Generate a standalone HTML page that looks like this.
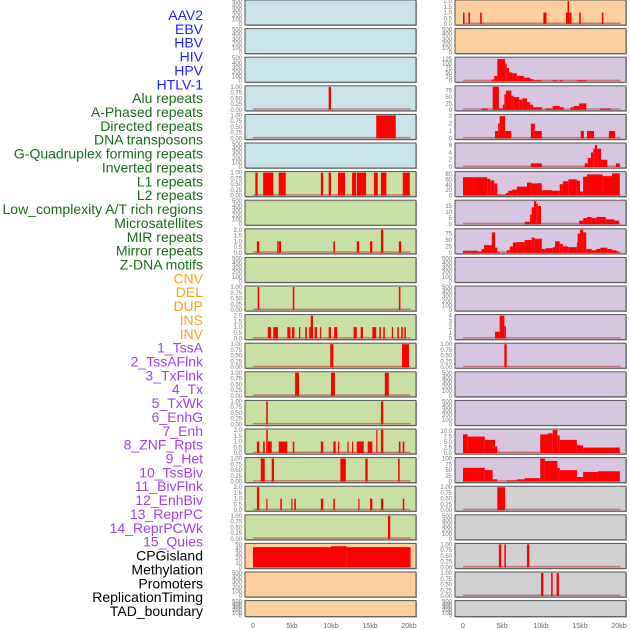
<!DOCTYPE html>
<html><head><meta charset="utf-8"><style>
html,body{margin:0;padding:0;background:#fff;}
svg{display:block;font-family:"Liberation Sans",sans-serif;}
</style></head><body>
<svg id="chart" width="630" height="630" viewBox="0 0 630 630" xmlns="http://www.w3.org/2000/svg"></svg>
<script>
const trackLabels=["AAV2","EBV","HBV","HIV","HPV","HTLV-1","Alu repeats","A-Phased repeats","Directed repeats","DNA transposons","G-Quadruplex forming repeats","Inverted repeats","L1 repeats","L2 repeats","Low_complexity A/T rich regions","Microsatellites","MIR repeats","Mirror repeats","Z-DNA motifs","CNV","DEL","DUP","INS","INV","1_TssA","2_TssAFlnk","3_TxFlnk","4_Tx","5_TxWk","6_EnhG","7_Enh","8_ZNF_Rpts","9_Het","10_TssBiv","11_BivFlnk","12_EnhBiv","13_ReprPC","14_ReprPCWk","15_Quies","CPGisland","Methylation","Promoters","ReplicationTiming","TAD_boundary"];
const labelGroups=[6,13,5,15,5];
const groupColors=["#1f1fff","#1a6b1a","#ffa21a","#a040f0","#000000"];
const xTicks=[0,5,10,15,20];
const xTickLabels=["0","5kb","10kb","15kb","20kb"];
const leftMax=[500,500,500,1,1,500,1,500,2,500,1,2,1,1,1,2,1,2,1,50,500,500];
const rightMax=[2,500,130,90,3.1,6.3,85,19,90,500,500,4,1,500,500,10.5,100,1,500,1,1,500];
const leftTicks=[[0,100,200,300,400,500],[0,100,200,300,400,500],[0,100,200,300,400,500],[0,.25,.5,.75,1],[0,.25,.5,.75,1],[0,100,200,300,400,500],[0,.25,.5,.75,1],[0,100,200,300,400,500],[0,.5,1,1.5,2],[0,100,200,300,400,500],[0,.25,.5,.75,1],[0,.5,1,1.5,2],[0,.25,.5,.75,1],[0,.25,.5,.75,1],[0,.25,.5,.75,1],[0,.5,1,1.5,2],[0,.25,.5,.75,1],[0,.5,1,1.5,2],[0,.25,.5,.75,1],[0,10,20,30,40,50],[0,100,200,300,400,500],[0,100,200,300,400,500]];
const rightTicks=[[0,.5,1,1.5,2],[0,100,200,300,400,500],[0,25,50,75,100,125],[0,25,50,75],[0,1,2,3],[0,2,4,6],[0,20,40,60,80],[0,5,10,15],[0,25,50,75],[0,100,200,300,400,500],[0,100,200,300,400,500],[0,1,2,3,4],[0,.25,.5,.75,1],[0,100,200,300,400,500],[0,100,200,300,400,500],[0,2.5,5,7.5,10],[0,25,50,75,100],[0,.25,.5,.75,1],[0,100,200,300,400,500],[0,.25,.5,.75,1],[0,.25,.5,.75,1],[0,100,200,300,400,500]];
const tickDigits=[[0,0,0,2,2,0,2,0,1,0,2,1,2,2,2,1,2,1,2,0,0,0],[1,0,0,0,0,0,0,0,0,0,0,0,2,0,0,1,0,2,0,2,2,0]];
const leftSegs=[[],[],[],
[[9.7,10.0,1]],
[[15.8,18.3,1]],
[],
[[0.3,0.6,1],[1.3,2.6,1],[3.3,4.2,1],[8.7,9.0,1],[9.7,10.0,1],[10.9,11.8,1],[12.7,13.2,1],[13.3,14.5,1],[15.5,16.0,1],[16.4,17.1,1],[19.2,20.1,1]],
[],
[[0.5,0.8,1],[3.1,3.2,1],[3.3,3.6,1],[10.3,10.5,1],[13.3,13.6,1],[15.0,15.3,1],[16.4,16.7,2],[18.7,19.0,1]],
[],
[[0.6,0.8,1],[5.1,5.3,1],[18.7,18.9,1]],
[[1.9,2.3,1],[2.6,3.2,1],[4.4,4.8,1],[5.0,5.3,1],[5.9,6.0,1],[6.7,6.9,1],[7.2,7.4,1],[7.4,7.7,2],[7.9,8.2,1],[8.6,8.7,1],[9.7,10.0,1],[10.4,10.8,1],[12.9,13.3,1],[13.8,14.1,1],[15.3,15.8,1],[16.2,16.4,1],[16.7,16.9,1],[17.8,17.9,1],[18.5,18.7,1],[19.0,19.2,1],[19.4,19.6,1]],
[[9.9,10.3,1],[19.1,20.0,1]],
[[5.4,5.9,1],[10.0,10.5,1],[16.9,17.4,1]],
[[1.7,1.9,1],[16.4,16.7,1]],
[[0.5,0.8,1],[1.3,1.5,1],[1.7,1.9,2],[1.9,2.4,1],[3.3,4.4,1],[5.1,5.3,1],[8.7,9.0,1],[10.3,10.6,1],[10.9,11.0,1],[12.1,12.2,1],[12.7,12.8,1],[13.3,14.2,1],[14.7,15.3,1],[15.8,15.9,2],[16.4,16.7,2],[18.7,18.9,1],[19.2,19.4,1]],
[[1.0,1.5,1],[2.4,2.7,1],[11.2,11.9,1],[14.4,14.7,1],[18.6,18.8,1]],
[[0.5,0.8,2],[1.7,1.8,1],[3.5,3.7,1],[4.9,5.0,1],[5.3,5.5,1],[8.7,9.0,1],[10.3,10.5,1],[13.5,13.6,1],[15.0,15.3,1],[16.4,16.7,1],[19.2,19.4,1]],
[[17.3,17.6,1]],
[[0,10.0,44],[10.0,12.0,46],[12.0,20.2,44]],
[],[]];
const rightSegs=[
[[0,0.2,1],[0.7,0.9,1],[2.2,2.4,1],[10.3,10.7,1],[13.2,13.4,1],[13.4,13.6,2],[13.6,13.9,1],[14.9,15.1,1],[17.8,18.0,1]],
[],
[[3.7,4.0,10],[4.0,4.4,30],[4.4,5.4,125],[5.4,5.6,100],[5.6,5.9,75],[5.9,6.3,50],[6.3,6.9,45],[6.9,7.8,30],[7.8,8.6,20],[8.6,9.0,12],[9.0,10.1,5],[11.5,12.1,5],[12.4,12.8,5],[14.6,15.8,5]],
[[2.4,3.2,5],[3.8,4.6,90],[4.6,5.1,5],[5.1,5.3,20],[5.3,5.5,60],[5.5,6.2,75],[6.2,6.5,55],[6.5,7.2,50],[7.2,7.6,40],[7.6,8.2,45],[8.2,8.6,30],[8.6,9.0,20],[9.0,10.1,10],[10.6,11.5,5],[11.5,12.4,15],[12.4,12.9,10],[13.8,14.2,10],[14.2,14.9,15],[14.9,15.8,25],[17.6,19.0,5]],
[[4.1,4.5,1],[4.5,4.7,2],[4.7,5.4,3],[5.4,6.2,1],[8.7,9.2,2],[9.2,10.1,1],[15.1,15.5,1],[15.9,16.8,1],[18.7,19.5,1]],
[[8.7,10.1,1],[15.6,16.0,1],[16.0,16.4,2.5],[16.4,16.7,4],[16.7,16.9,5],[16.9,17.2,6],[17.2,17.7,5],[17.7,18.5,2],[19.6,20.1,1]],
[[0,1.4,68],[1.4,3.1,68],[3.1,3.5,62],[3.5,4.0,56],[4.0,4.4,45],[4.4,5.5,3],[5.5,5.8,10],[5.8,6.3,18],[6.3,6.9,22],[6.9,8.2,33],[8.2,8.8,48],[8.8,9.5,45],[9.5,10.1,46],[10.1,11.4,20],[11.4,12.4,18],[12.4,12.8,42],[12.8,13.5,53],[13.5,14.6,60],[14.6,15.0,55],[15.0,15.4,15],[15.4,15.9,70],[15.9,17.9,78],[17.9,19.1,72],[19.1,20.1,82]],
[[7.9,8.6,2],[8.6,8.8,8],[8.8,9.1,14],[9.1,9.4,19],[9.4,9.6,17],[9.6,10.0,15],[14.9,15.4,3],[15.4,15.9,5],[15.9,16.5,6],[16.5,17.1,5],[17.1,18.3,6],[18.3,19.4,4],[19.4,20.0,3]],
[[0,1.9,8],[1.9,2.4,5],[2.4,2.7,15],[2.7,3.7,30],[3.7,4.1,80],[4.1,4.4,20],[4.4,4.7,3],[5.6,6.0,10],[6.0,6.4,25],[6.4,6.9,40],[6.9,7.9,42],[7.9,8.8,50],[8.8,9.2,60],[9.2,10.1,55],[10.1,10.6,15],[10.6,11.5,18],[11.5,11.8,22],[11.8,12.4,45],[12.4,12.8,35],[12.8,13.5,25],[13.5,14.6,22],[14.6,14.7,40],[14.7,15.0,75],[15.0,15.4,90],[15.4,15.8,80],[15.8,16.5,15],[16.5,17.1,10],[17.1,17.6,15],[17.6,18.5,20],[18.5,19.1,15],[19.1,19.7,10],[19.7,20.0,5]],
[],[],
[[4.1,4.7,1.2],[4.7,5.3,4],[5.3,5.5,2.2]],
[[5.3,5.6,1]],
[],[],
[[0,0.6,8.5],[0.6,2.8,7.5],[2.8,4.1,6],[4.1,4.4,3],[9.9,10.9,8.5],[10.9,11.5,9],[11.5,12.1,10.5],[12.1,12.4,8],[12.4,14.6,6],[14.6,15.4,3.5],[15.4,20.1,2.5]],
[[0,2.8,60],[2.8,3.8,50],[3.8,4.4,10],[5.6,6.9,5],[6.9,7.9,10],[7.9,9.9,15],[9.9,10.5,100],[10.5,12.1,90],[12.1,12.4,60],[12.4,14.6,50],[14.6,15.4,20],[15.4,17.3,42],[17.3,20.1,45]],
[[4.4,5.4,1]],
[],
[[4.6,4.9,1],[5.3,5.5,1],[8.2,8.5,1]],
[[10.0,10.3,1],[11.3,11.5,1],[12.0,12.3,1]],
[]];
const leftBg=["#c9e3eb","#c9e3eb","#c9e3eb","#c9e3eb","#c9e3eb","#c9e3eb","#c8e0a3","#c8e0a3","#c8e0a3","#c8e0a3","#c8e0a3","#c8e0a3","#c8e0a3","#c8e0a3","#c8e0a3","#c8e0a3","#c8e0a3","#c8e0a3","#c8e0a3","#fdcf9d","#fdcf9d","#fdcf9d"];
const rightBg=["#fdcf9d","#fdcf9d","#d6c6e2","#d6c6e2","#d6c6e2","#d6c6e2","#d6c6e2","#d6c6e2","#d6c6e2","#d6c6e2","#d6c6e2","#d6c6e2","#d6c6e2","#d6c6e2","#d6c6e2","#d6c6e2","#d6c6e2","#d0d0d0","#d0d0d0","#d0d0d0","#d0d0d0","#d0d0d0"];

const NS="http://www.w3.org/2000/svg";
const svg=document.getElementById("chart");
function mk(tag,attrs,parent){const e=document.createElementNS(NS,tag);for(const k in attrs)e.setAttribute(k,attrs[k]);(parent||svg).appendChild(e);return e;}

// labels
let li=0;
labelGroups.forEach((n,g)=>{for(let k=0;k<n;k++){
  const t=mk("text",{x:203,y:20+13.86*li,"text-anchor":"end","font-size":"14",fill:groupColors[g]});
  
  
  t.textContent=trackLabels[li];li++;}});

const cols=[{px:245,pw:171,x0:253,segs:leftSegs,max:leftMax,ticks:leftTicks,bg:leftBg,name:'left'},
            {px:455,pw:171,x0:463,segs:rightSegs,max:rightMax,ticks:rightTicks,bg:rightBg,name:'right'}];
const kbPx=7.8;
function rowTop(i){return i*28.6;}
function rowH(i){return i===21?16:25;}

cols.forEach((c,ci)=>{
  const xScale=v=>c.x0+v*kbPx;
  for(let i=0;i<22;i++){
    const t=rowTop(i),h=rowH(i);
    const g=mk("g",{});
    
    
    mk("rect",{x:c.px+1,y:t+1,width:c.pw,height:h,fill:"#aaa"},g);
    mk("rect",{x:c.px,y:t,width:c.pw,height:h,fill:c.bg[i],stroke:"#555","stroke-width":1},g);
    const yScale=v=>t+h-1-(v/c.max[i])*(h-2);
    if(c.segs[i].length){
      mk("rect",{x:xScale(0),y:t+h-2.5,width:xScale(20.2)-xScale(0),height:1.5,fill:"#c86060",opacity:0.8},g);
    }
    c.segs[i].forEach((s,si)=>{
      const y=yScale(s[2]);
      const r=mk("rect",{x:xScale(s[0]),y:y,width:Math.max(1.2,xScale(s[1])-xScale(s[0])),height:t+h-1-y,fill:"#ff0000"},g);
      
      
    });
    const dg=tickDigits[ci][i];
    c.ticks[i].forEach(v=>{
      const tt=mk("text",{x:c.px-3,y:yScale(v)+2,"text-anchor":"end","font-size":"6",fill:"#777"},g);
      
      
      tt.textContent=v.toFixed(dg);
    });
  }
  xTicks.forEach((v,k)=>{
    const tx=mk("text",{x:xScale(v),y:628,"text-anchor":"middle","font-size":"7",fill:"#666"});
    
    
    tx.textContent=xTickLabels[k];
  });
});
</script>
</body></html>
